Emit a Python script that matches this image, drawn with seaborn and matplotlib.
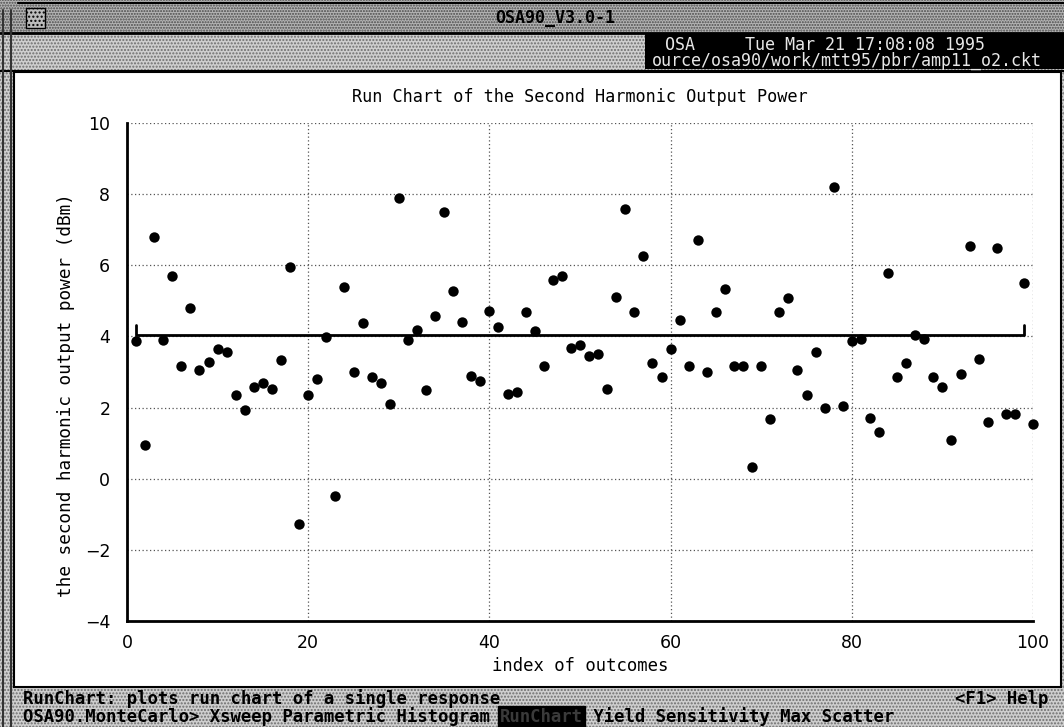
"""
Run chart of the second harmonic output power (OSA90 Monte Carlo screen).
"""
import numpy as np
import matplotlib
matplotlib.use("Agg")
import matplotlib.pyplot as plt
import seaborn as sns
from matplotlib.patches import Rectangle
from matplotlib.lines import Line2D

# --- data ---
outcome_index = np.arange(1, 101)
harmonic_power = [
    3.88, 0.94, 6.79, 3.90, 5.71, 3.17, 4.80, 3.07, 3.28, 3.65,
    3.56, 2.34, 1.93, 2.57, 2.69, 2.52, 3.35, 5.95, -1.28, 2.35,
    2.80, 3.98, -0.49, 5.38, 3.01, 4.37, 2.87, 2.69, 2.11, 7.90,
    3.91, 4.19, 2.48, 4.58, 7.51, 5.27, 4.41, 2.90, 2.76, 4.72,
    4.26, 2.39, 2.45, 4.68, 4.14, 3.16, 5.59, 5.70, 3.68, 3.75,
    3.46, 3.50, 2.53, 5.11, 7.58, 4.69, 6.26, 3.26, 2.85, 3.64,
    4.46, 3.16, 6.72, 2.99, 4.70, 5.32, 3.16, 3.18, 0.34, 3.17,
    1.69, 4.69, 5.07, 3.06, 2.36, 3.57, 1.99, 8.21, 2.04, 3.87,
    3.92, 1.70, 1.32, 5.78, 2.87, 3.26, 4.03, 3.92, 2.87, 2.57,
    1.09, 2.95, 6.55, 3.37, 1.59, 6.49, 1.81, 1.81, 5.50, 1.55,
]
mean_power = 4.03
mean_span = [1, 99]
mean_cap = 0.3

x_ticks = [0, 20, 40, 60, 80, 100]
y_ticks = [-4, -2, 0, 2, 4, 6, 8, 10]

chart_title = "Run Chart of the Second Harmonic Output Power"
x_label = "index of outcomes"
y_label = "the second harmonic output power (dBm)"

window_title = "OSA90_V3.0-1"
info_line1 = "OSA     Tue Mar 21 17:08:08 1995"
info_line2 = "ource/osa90/work/mtt95/pbr/amp11_o2.ckt"
status_line = "RunChart: plots run chart of a single response"
help_text = "<F1> Help"
menu_prompt = "OSA90.MonteCarlo>"
menu_items = ["Xsweep", "Parametric", "Histogram", "RunChart",
              "Yield", "Sensitivity", "Max", "Scatter"]
menu_active = "RunChart"

W, H = 1064, 727
STATUS_FS = 12.4
CHAR_W = STATUS_FS * 100 / 72 * 0.602  # mono advance in pixels

sns.set_theme(style="white")
plt.rcParams['font.family'] = ['DejaVu Sans Mono']
plt.rcParams['hatch.linewidth'] = 1.0
for key in ['text.color', 'axes.labelcolor', 'xtick.color', 'ytick.color']:
    plt.rcParams[key] = 'black'

fig = plt.figure(figsize=(W / 100, H / 100), dpi=100)


def px(x, y):
    """Screen pixel (top-left origin) to figure fraction."""
    return x / W, 1 - y / H


def box(x0, y0, x1, y1, **kw):
    fig.patches.append(Rectangle(px(x0, y1), (x1 - x0) / W, (y1 - y0) / H,
                                 transform=fig.transFigure, zorder=-5, **kw))


def hline(x0, x1, y, **kw):
    fig.add_artist(Line2D([x0 / W, x1 / W], [1 - y / H] * 2,
                          transform=fig.transFigure, zorder=-4, **kw))


def vline(x, y0, y1, **kw):
    fig.add_artist(Line2D([x / W] * 2, [1 - y0 / H, 1 - y1 / H],
                          transform=fig.transFigure, zorder=-4, **kw))


def label(x, y, s, **kw):
    fx, fy = px(x, y)
    fig.text(fx, fy, s, **kw)


# window chrome: stippled bars
box(0, 0, W, H, facecolor='#cfcfcf', edgecolor='#6e6e6e', hatch='.....', linewidth=0)
box(0, 0, W, 33, facecolor='#b4b4b4', edgecolor='#4a4a4a', hatch='......', linewidth=0)
hline(18, W, 3, color='black', lw=1.5)
hline(0, W, 33, color='black', lw=2)
hline(0, W, 71, color='black', lw=1.5)
vline(3, 10, H, color='#333333', lw=1.5)
vline(11, 10, H, color='#333333', lw=1.5)
box(26, 8, 45, 28, facecolor='#bcbcbc', edgecolor='black', hatch='....', linewidth=1)
label(555, 18, window_title, ha='center', va='center', fontsize=12, fontweight='bold')

# info box at top right
box(645, 33, W, 69, facecolor='black', edgecolor='black', linewidth=0)
label(665, 45, info_line1, ha='left', va='center', fontsize=12, color='#e8e8e8')
label(652, 61, info_line2, ha='left', va='center', fontsize=12, color='#e8e8e8')

# white chart panel
box(14, 72, 1061, 687, facecolor='white', edgecolor='black', linewidth=1.5)

# status lines
label(23, 699, status_line, ha='left', va='center', fontsize=STATUS_FS, fontweight='bold')
label(955, 699, help_text, ha='left', va='center', fontsize=STATUS_FS, fontweight='bold')
menu_text = menu_prompt + " " + " ".join(menu_items)
pos = menu_text.index(menu_active)
before, after = menu_text[:pos], menu_text[pos + len(menu_active):]
label(23, 717, before, ha='left', va='center', fontsize=STATUS_FS, fontweight='bold')
label(23 + pos * CHAR_W, 717, menu_active, ha='left', va='center', fontsize=STATUS_FS,
      fontweight='bold', color='#3a3a3a',
      bbox=dict(boxstyle='square,pad=0.1', facecolor='black', edgecolor='black'))
label(23 + (pos + len(menu_active)) * CHAR_W, 717, after, ha='left', va='center',
      fontsize=STATUS_FS, fontweight='bold')

# --- the run chart ---
ax_l, ax_t, ax_r, ax_b = 127, 123, 1033, 621
ax = fig.add_axes([ax_l / W, 1 - ax_b / H, (ax_r - ax_l) / W, (ax_b - ax_t) / H])
ax.set_zorder(5)
ax.set_facecolor('white')
ax.set_axisbelow(True)

sns.scatterplot(x=outcome_index, y=harmonic_power, color='black', s=56,
                linewidth=0, ax=ax, zorder=3, clip_on=False)
ax.plot([mean_span[0], mean_span[0], mean_span[1], mean_span[1]],
        [mean_power + mean_cap, mean_power, mean_power, mean_power + mean_cap],
        color='black', lw=2, zorder=2)

ax.set_xlim(x_ticks[0], x_ticks[-1])
ax.set_ylim(y_ticks[0], y_ticks[-1])
ax.set_xticks(x_ticks)
ax.set_yticks(y_ticks)
ax.grid(True, linestyle=(0, (1, 2)), color='#555555', linewidth=0.9)
ax.tick_params(length=0, labelsize=12.5, labelcolor='black')
ax.tick_params(axis='x', pad=9)
ax.tick_params(axis='y', pad=12)
for t in ax.get_xticklabels() + ax.get_yticklabels():
    t.set_fontfamily(['DejaVu Sans'])

for side in ['top', 'right']:
    ax.spines[side].set_visible(False)
for side in ['left', 'bottom']:
    ax.spines[side].set_color('black')
    ax.spines[side].set_linewidth(2)

ax.set_title(chart_title, fontsize=12.2, pad=15, color='black')
ax.set_xlabel(x_label, fontsize=12.4, color='black')
ax.set_ylabel(y_label, fontsize=12.8, color='black')
ax.xaxis.set_label_coords(0.5, -0.072)
ax.yaxis.set_label_coords(-0.057, 0.454)

fig.savefig("out.png", dpi=100)
